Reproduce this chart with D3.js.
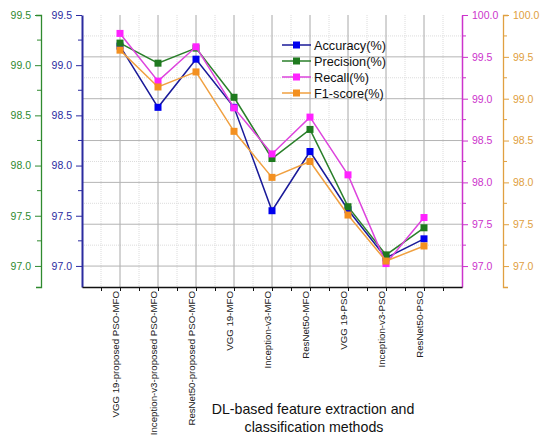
<!DOCTYPE html>
<html>
<head>
<meta charset="utf-8">
<script src="https://cdn.jsdelivr.net/npm/d3@7"></script>
<style>
  body { margin: 0; background: #fff; }
  svg { display: block; font-family: "Liberation Sans", Arial, sans-serif; }
</style>
</head>
<body>
<div id="chart"></div>
<script>
// categories (x axis)
var methods = ["VGG 19-proposed PSO-MFO", "Inception-v3-proposed PSO-MFO", "ResNet50-proposed PSO-MFO",
  "VGG 19-MFO", "Inception-v3-MFO", "ResNet50-MFO", "VGG 19-PSO", "Inception-v3-PSO", "ResNet50-PSO"];

// series values (%)
var accuracy  = [99.19, 98.58, 99.06, 98.58, 97.55, 98.14, 97.56, 97.08, 97.27];
var precision = [99.22, 99.02, 99.17, 98.68, 98.07, 98.36, 97.59, 97.11, 97.38];
var recall    = [99.78, 99.21, 99.62, 98.89, 98.34, 98.78, 98.09, 97.03, 97.58];
var f1score   = [99.58, 99.14, 99.32, 98.61, 98.06, 98.25, 97.61, 97.06, 97.24];

var leftTicks = [97.0, 97.5, 98.0, 98.5, 99.0, 99.5];
var rightTicks = [97.0, 97.5, 98.0, 98.5, 99.0, 99.5, 100.0];

var W = 542, H = 436;
var plot = {left: 82, right: 462, top: 15, bottom: 287};

var svg = d3.select("#chart").append("svg")
  .attr("width", W).attr("height", H);

var x = d3.scaleLinear().domain([0, methods.length + 1]).range([plot.left, plot.right]);
var yLeft = d3.scaleLinear().domain([96.79, 99.5]).range([plot.bottom, plot.top]);
var yRight = d3.scaleLinear().domain([96.75, 100]).range([plot.bottom, plot.top]);

// colours
var cBlue = "#2b2ba0", cGreen = "#2f8a2f", cMag = "#cc33cc", cOrange = "#e0a040";

/* grid */
var grid = svg.append("g");
var minorX = d3.range(0.5, methods.length + 1, 1);
grid.selectAll(".vmin").data(minorX).enter().append("line")
  .attr("x1", d => x(d)).attr("x2", d => x(d))
  .attr("y1", plot.top).attr("y2", plot.bottom)
  .style("stroke", "#dcdcdc").style("stroke-dasharray", "1,1").style("stroke-width", 1);
var minorY = d3.range(97.25, 100, 0.5);
grid.selectAll(".hmin").data(minorY).enter().append("line")
  .attr("x1", plot.left).attr("x2", plot.right)
  .attr("y1", d => yRight(d)).attr("y2", d => yRight(d))
  .style("stroke", "#dcdcdc").style("stroke-dasharray", "1,1").style("stroke-width", 1);
grid.selectAll(".vmaj").data(methods).enter().append("line")
  .attr("x1", (d, i) => x(i + 1)).attr("x2", (d, i) => x(i + 1))
  .attr("y1", plot.top).attr("y2", plot.bottom)
  .style("stroke", "#a8a8a8").style("stroke-width", 1);
grid.selectAll(".hmaj").data(rightTicks.filter(d => d < 100)).enter().append("line")
  .attr("x1", plot.left).attr("x2", plot.right)
  .attr("y1", d => yRight(d)).attr("y2", d => yRight(d))
  .style("stroke", "#b4b4b4").style("stroke-width", 1);

/* axes */
function styleAxis(g, color, width) {
  g.select(".domain").style("stroke", color).style("stroke-width", width);
  g.selectAll(".tick line").style("stroke", color).style("stroke-width", 1);
  g.selectAll(".tick text").style("fill", color).style("font-size", "10.5px")
    .style("font-family", "Liberation Sans, Arial, sans-serif");
}
function minorTicks(g, scale, vals, side, color) {
  g.selectAll(".mtick").data(vals).enter().append("line")
    .attr("x1", 0).attr("x2", side * 4)
    .attr("y1", d => scale(d)).attr("y2", d => scale(d))
    .style("stroke", color);
}
var minorL = [97.25, 97.75, 98.25, 98.75, 99.25];
var minorR = [97.25, 97.75, 98.25, 98.75, 99.25, 99.75];

// green (precision) axis, far left
var gGreen = svg.append("g").attr("transform", "translate(41,0)")
  .call(d3.axisLeft(yLeft).tickValues(leftTicks).tickFormat(d3.format(".1f")).tickSize(6).tickSizeOuter(5).tickPadding(4));
styleAxis(gGreen, cGreen, 1.3);
minorTicks(gGreen, yLeft, minorL, -1, cGreen);

// blue (accuracy) axis
var gBlue = svg.append("g").attr("transform", "translate(" + plot.left + ",0)")
  .call(d3.axisLeft(yLeft).tickValues(leftTicks).tickFormat(d3.format(".1f")).tickSize(6).tickSizeOuter(0).tickPadding(4));
styleAxis(gBlue, cBlue, 2);
minorTicks(gBlue, yLeft, minorL, -1, cBlue);

// magenta (recall) axis
var gMag = svg.append("g").attr("transform", "translate(" + plot.right + ",0)")
  .call(d3.axisRight(yRight).tickValues(rightTicks).tickFormat(d3.format(".1f")).tickSize(6).tickSizeOuter(0).tickPadding(4));
styleAxis(gMag, cMag, 1.5);
minorTicks(gMag, yRight, minorR, 1, cMag);

// orange (f1) axis
var gOr = svg.append("g").attr("transform", "translate(503,0)")
  .call(d3.axisRight(yRight).tickValues(rightTicks).tickFormat(d3.format(".1f")).tickSize(6).tickSizeOuter(5).tickPadding(4));
styleAxis(gOr, cOrange, 1.3);
minorTicks(gOr, yRight, minorR, 1, cOrange);

// bottom axis
var gX = svg.append("g").attr("transform", "translate(0," + plot.bottom + ")")
  .call(d3.axisBottom(x).tickValues(d3.range(0.5, methods.length + 1, 0.5)).tickFormat("").tickSize(4).tickSizeOuter(0));
gX.select(".domain").style("stroke", "#111").style("stroke-width", 1.5);
gX.selectAll(".tick line").style("stroke", "#111");

// category labels
svg.append("g").selectAll("text").data(methods).enter().append("text")
  .attr("transform", (d, i) => "translate(" + (x(i + 1) - 1.5) + "," + (plot.bottom + 4) + ") rotate(-90)")
  .attr("text-anchor", "end")
  .style("font-size", "9.7px").style("fill", "#222")
  .text(d => d);

// axis title
var title = svg.append("text").attr("text-anchor", "middle")
  .style("font-size", "14.2px").style("fill", "#111");
title.append("tspan").attr("x", 313).attr("y", 414).text("DL-based feature extraction and");
title.append("tspan").attr("x", 314).attr("y", 432).text("classification methods");

/* series */
var series = [
  {name: "Accuracy(%)", values: accuracy, y: yLeft, line: "#1a1a99", mark: "#0000ee"},
  {name: "Precision(%)", values: precision, y: yLeft, line: "#2a7f2a", mark: "#1e7a1e"},
  {name: "Recall(%)", values: recall, y: yRight, line: "#dd44dd", mark: "#ff22ff"},
  {name: "F1-score(%)", values: f1score, y: yRight, line: "#f0a040", mark: "#f39020"}
];

var ms = 7;
series.forEach(function(s) {
  var line = d3.line().x((d, i) => x(i + 1)).y(d => s.y(d));
  svg.append("path").datum(s.values)
    .attr("d", line).style("fill", "none")
    .style("stroke", s.line).style("stroke-width", 1.5);
  svg.append("g").selectAll("rect").data(s.values).enter().append("rect")
    .attr("x", (d, i) => x(i + 1) - ms / 2).attr("y", d => s.y(d) - ms / 2)
    .attr("width", ms).attr("height", ms)
    .style("fill", s.mark);
});

/* legend */
var legend = svg.append("g").attr("transform", "translate(282,45)");
var rows = legend.selectAll("g").data(series).enter().append("g")
  .attr("transform", (d, i) => "translate(0," + i * 16 + ")");
rows.append("line").attr("x1", 0).attr("x2", 29).attr("y1", 0).attr("y2", 0)
  .style("stroke", d => d.line).style("stroke-width", 1.5);
rows.append("rect").attr("x", 14.5 - ms / 2).attr("y", -ms / 2).attr("width", ms).attr("height", ms)
  .style("fill", d => d.mark);
rows.append("text").attr("x", 32).attr("y", 4.5)
  .style("font-size", "12.7px").style("fill", "#111")
  .text(d => d.name);
</script>
</body>
</html>
